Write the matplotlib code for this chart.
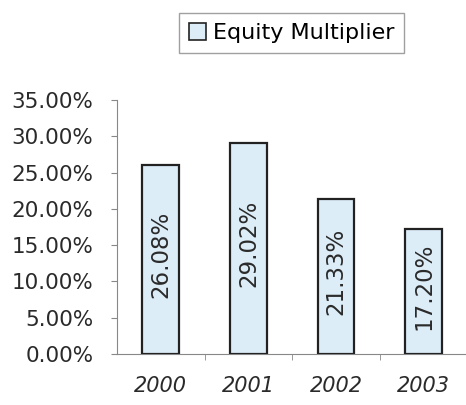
import numpy as np
import matplotlib.pyplot as plt
from matplotlib.patches import Patch

# Data
years = ['2000', '2001', '2002', '2003']
equity_multiplier = [0.2608, 0.2902, 0.2133, 0.1720]
value_labels = ['26.08%', '29.02%', '21.33%', '17.20%']
y_ticks = [0.0, 0.05, 0.10, 0.15, 0.20, 0.25, 0.30, 0.35]

bar_color = '#dcedf8'

fig = plt.figure(figsize=(4.66, 4.05), dpi=100)
ax = fig.add_axes([0.251, 0.126, 0.752, 0.627])

x = np.arange(len(years))
bars = ax.bar(x, equity_multiplier, width=0.42, color=bar_color,
              edgecolor='#222222', linewidth=1.6, zorder=3)

# Rotated value labels in the middle of each bar
for xi, v, lab in zip(x, equity_multiplier, value_labels):
    ax.text(xi, v / 2 + 0.007, lab, rotation=90, ha='center', va='center',
            fontsize=16.5, color='#2a2a2a', zorder=4)

ax.set_xlim(-0.5, 3.5)
ax.set_ylim(0, 0.35)
ax.set_yticks(y_ticks)
ax.set_yticklabels(['{:.2f}%'.format(t * 100) for t in y_ticks],
                   fontsize=15.5, color='#2a2a2a')

# Category labels, ticks between categories
ax.set_xticks(x)
ax.set_xticklabels(years, fontsize=15, style='italic', color='#2a2a2a')
ax.tick_params(axis='x', length=0, pad=16)
ax.set_xticks([0.5, 1.5, 2.5], minor=True)
ax.tick_params(axis='x', which='minor', length=4, color='#888888')
ax.tick_params(axis='y', length=4, color='#888888', pad=13)

for side in ['top', 'right']:
    ax.spines[side].set_visible(False)
ax.spines['left'].set_color('#888888')
ax.spines['bottom'].set_color('#888888')

handle = Patch(facecolor=bar_color, edgecolor='#222222', linewidth=1.2)
fig.legend([handle], ['Equity Multiplier'], loc='center',
           bbox_to_anchor=(0.626, 0.918), fontsize=16, frameon=True,
           fancybox=False, edgecolor='#888888', handlelength=0.75,
           handleheight=0.75, handletextpad=0.3, borderpad=0.45)

fig.savefig('out.png', dpi=100)
